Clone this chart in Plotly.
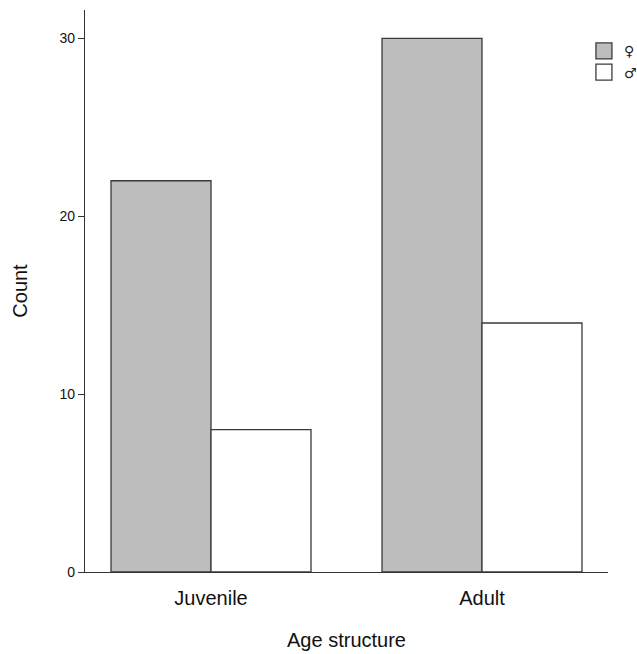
import plotly.graph_objects as go

categories = ["Juvenile", "Adult"]
female = [22, 30]
male = [8, 14]
series_names = ["♀", "♂"]
fills = ["#bdbdbd", "#ffffff"]
edge = "#3a3a3a"

fig = go.Figure()
for vals, name, fill in zip([female, male], series_names, fills):
    fig.add_trace(go.Bar(x=categories, y=vals, name=name, showlegend=False,
                         marker=dict(color=fill, line=dict(color=edge, width=1.3))))
# legend entries (square swatches)
for name, fill in zip(series_names, fills):
    fig.add_trace(go.Scatter(x=[None], y=[None], mode="markers", name=name,
                             marker=dict(symbol="square", size=16, color=fill,
                                         line=dict(color=edge, width=1.3))))

fig.update_layout(
    width=637, height=654,
    margin=dict(l=85, r=29, t=10, b=82, autoexpand=False),
    plot_bgcolor="white", paper_bgcolor="white",
    barmode="group", bargap=0.262, bargroupgap=0,
    font=dict(family="Liberation Sans, Arial, sans-serif", color="#111111"),
    legend=dict(x=0.954, y=0.955, xanchor="left", yanchor="top",
                font=dict(size=14, family="DejaVu Sans", color="#222222"),
                bgcolor="rgba(0,0,0,0)", itemwidth=30, tracegroupgap=0),
    xaxis=dict(
        range=[-0.465, 1.465], showline=True, linecolor="#333333", linewidth=1.3,
        ticks="outside", ticklen=8, tickcolor="rgba(0,0,0,0)",
        tickfont=dict(size=20), showgrid=False,
        title=dict(text="Age structure", font=dict(size=20), standoff=24),
    ),
    yaxis=dict(
        range=[0, 31.6], showline=True, linecolor="#333333", linewidth=1.3,
        tickvals=[0, 10, 20, 30], ticks="outside", ticklen=6, tickcolor="#333333",
        tickfont=dict(size=14), showgrid=False, zeroline=False,
        title=dict(text="Count", font=dict(size=20), standoff=26),
    ),
)

fig.write_html("out.html", config={"displayModeBar": False},
               post_script="document.body.style.margin='0';")
